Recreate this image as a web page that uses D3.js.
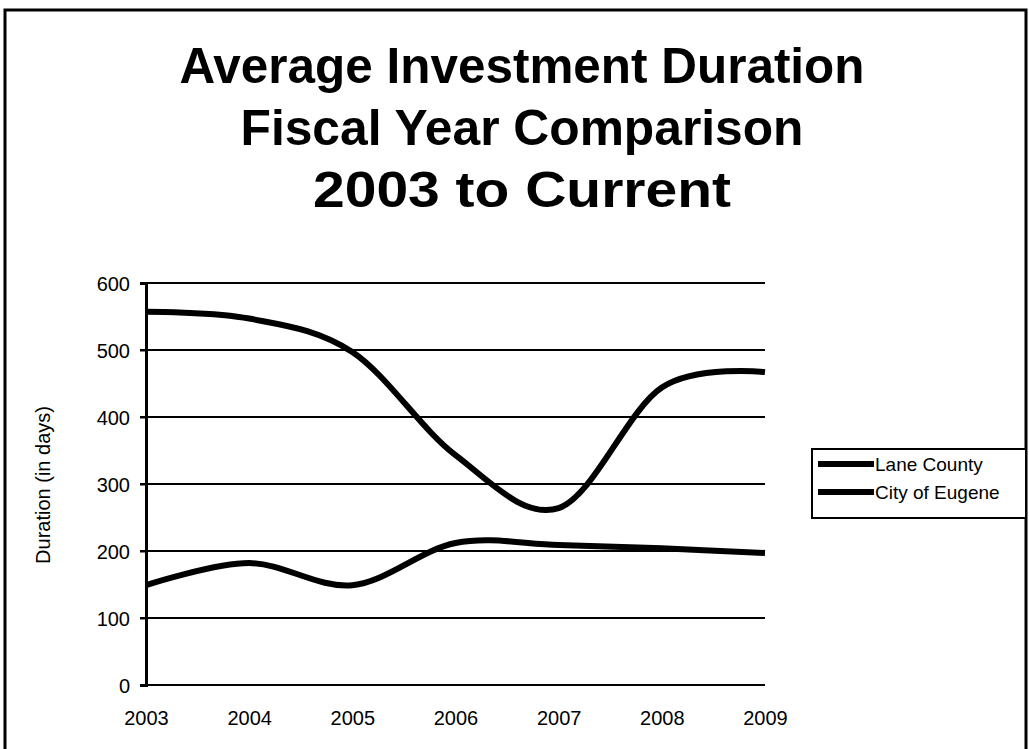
<!DOCTYPE html>
<html>
<head>
<meta charset="utf-8">
<script src="https://cdn.jsdelivr.net/npm/d3@7"></script>
<style>
  body { margin: 0; background: #fff; }
  text { font-family: "Liberation Sans", Arial, sans-serif; fill: #000; }
</style>
</head>
<body>
<div class="chart"></div>
<script>
'use strict';

const years = [2003, 2004, 2005, 2006, 2007, 2008, 2009];
const laneCounty = [557, 547, 497, 343, 264, 444, 467];
const cityOfEugene = [149, 182, 149, 212, 209, 204, 197];
const yTicks = [0, 100, 200, 300, 400, 500, 600];
const titleLines = ['Average Investment Duration', 'Fiscal Year Comparison', '2003 to Current'];
const seriesNames = ['Lane County', 'City of Eugene'];

const W = 1029, H = 749;
const margin = {top: 283, right: 264, bottom: 64, left: 146};
const labelFont = '"Liberation Sans", Arial, sans-serif';

const svg = d3.select('.chart')
    .append('svg')
    .attr('width', W)
    .attr('height', H);

// outer frame
svg.append('rect')
    .attr('x', 5).attr('y', 10)
    .attr('width', 1021).attr('height', 760)
    .attr('fill', 'none')
    .attr('stroke', '#000')
    .attr('stroke-width', 3);

// title - condensed to the widths in the scan
const titleWidths = [685, 563, 418];
svg.selectAll('.title')
    .data(titleLines)
    .enter().append('text')
    .attr('class', 'title')
    .attr('x', 522)
    .attr('y', (d, i) => 83 + i * 62)
    .attr('text-anchor', 'middle')
    .attr('font-size', 50)
    .attr('font-weight', 'bold')
    .attr('textLength', (d, i) => titleWidths[i])
    .attr('lengthAdjust', 'spacingAndGlyphs')
    .text(d => d);

const x = d3.scaleLinear()
    .domain([2003, 2009])
    .range([margin.left, W - margin.right]);

const y = d3.scaleLinear()
    .domain([0, 600])
    .range([H - margin.bottom, margin.top]);

// gridlines
svg.append('g')
    .selectAll('line')
    .data(yTicks)
    .enter().append('line')
    .attr('x1', x(2003) - 6)
    .attr('x2', x(2009))
    .attr('y1', d => y(d))
    .attr('y2', d => y(d))
    .attr('stroke', '#000')
    .attr('stroke-width', 2);

// y axis
const yAxis = svg.append('g')
    .attr('transform', `translate(${x(2003)},0)`)
    .call(d3.axisLeft(y).tickValues(yTicks).tickSize(6).tickPadding(10));
yAxis.select('.domain').attr('stroke-width', 3);
yAxis.selectAll('.tick line').attr('stroke-width', 2);
yAxis.selectAll('.tick text')
    .attr('font-size', 20)
    .attr('font-family', labelFont)
    .attr('dy', '0.36em');

// x axis labels
const xAxis = svg.append('g')
    .attr('transform', `translate(0,${y(0)})`)
    .call(d3.axisBottom(x).tickValues(years).tickFormat(d3.format('d')).tickSize(0).tickPadding(26));
xAxis.select('.domain').remove();
xAxis.selectAll('.tick text')
    .attr('font-size', 20)
    .attr('font-family', labelFont);

// y axis title
svg.append('text')
    .attr('transform', 'translate(50,485) rotate(-90)')
    .attr('text-anchor', 'middle')
    .attr('font-size', 20)
    .text('Duration (in days)');

// lines
const line = d3.line()
    .x((d, i) => x(years[i]))
    .y(d => y(d))
    .curve(d3.curveCardinal.tension(0));

[laneCounty, cityOfEugene].forEach((s) => {
    svg.append('path')
        .datum(s)
        .attr('d', line)
        .attr('fill', 'none')
        .attr('stroke', '#000')
        .attr('stroke-width', 6)
        .attr('stroke-linecap', 'butt');
});

// legend
const legend = svg.append('g');
legend.append('rect')
    .attr('x', 812).attr('y', 449)
    .attr('width', 214).attr('height', 69)
    .attr('fill', '#fff')
    .attr('stroke', '#000')
    .attr('stroke-width', 2);

const items = legend.selectAll('.item')
    .data(seriesNames)
    .enter().append('g')
    .attr('transform', (d, i) => `translate(818,${464 + i * 28})`);
items.append('line')
    .attr('x1', 0).attr('x2', 56)
    .attr('stroke', '#000')
    .attr('stroke-width', 6);
items.append('text')
    .attr('x', 57)
    .attr('dy', '0.36em')
    .attr('font-size', 19)
    .text(d => d);
</script>
</body>
</html>
